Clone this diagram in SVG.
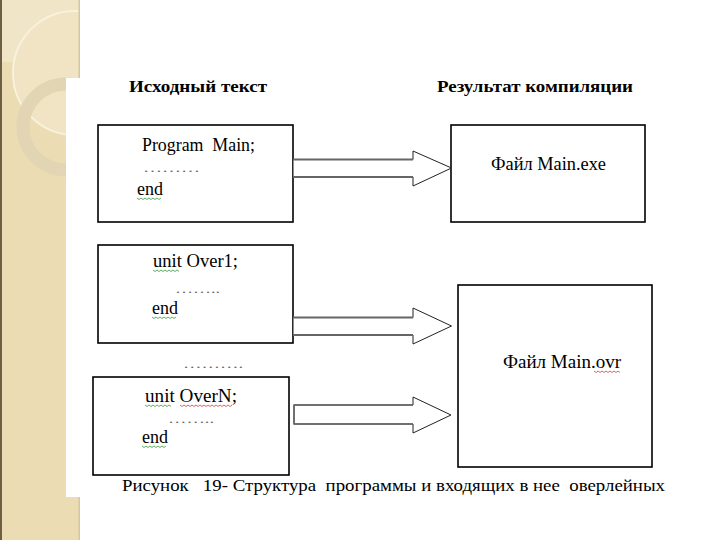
<svg xmlns="http://www.w3.org/2000/svg" width="720" height="540" viewBox="0 0 720 540">
<defs>
<style>
.t{font-size:18px;fill:#000}
.b{font-weight:bold;font-size:17px}
.d{font-size:13px;fill:#666}
.box{fill:#fff;stroke:#000;stroke-width:1.6}
.arr{fill:#fff;stroke:#222;stroke-width:1}
.sh{stroke:#666;stroke-width:2.2;fill:none}
.sq{fill:none;stroke-width:0.8}
</style>
<clipPath id="strip"><rect x="0" y="0" width="80" height="540"/></clipPath>
</defs>
<rect width="720" height="540" fill="#fff"/>
<g id="decor" clip-path="url(#strip)">
<rect x="0" y="0" width="80" height="540" fill="#ecdcb3"/>
<rect x="0" y="0" width="80" height="62" fill="#f1e5c8"/>
<circle cx="75" cy="73" r="62" fill="#f0e4c5" stroke="#f8f1dd" stroke-width="2"/>
<circle cx="66" cy="127" r="43" fill="none" stroke="#e2d5b3" stroke-width="13"/>
<rect x="0" y="0" width="2" height="540" fill="#6e5e44"/>
<rect x="78.5" y="0" width="1.5" height="540" fill="#d8c69e"/>
</g>
<rect x="66" y="78" width="654" height="419" fill="#fff"/>
<g font-family="Liberation Serif, DejaVu Serif, serif">
<g id="titles">
<text class="t b" x="129" y="92" textLength="138" lengthAdjust="spacingAndGlyphs">Исходный текст</text>
<text class="t b" x="437" y="92" textLength="196" lengthAdjust="spacingAndGlyphs">Результат компиляции</text>
</g>
<g id="src-main">
<rect class="box" x="98" y="125" width="195" height="97"/>
<text class="t" x="142" y="151" xml:space="preserve" textLength="113" lengthAdjust="spacingAndGlyphs">Program  Main;</text>
<text class="d" x="143" y="172" textLength="57" lengthAdjust="spacingAndGlyphs">………</text>
<text class="t" x="137" y="195">end</text>
<path class="sq" stroke="#3a9a3a" d="M137 198 l2 1.5 l2 -1.5 l2 1.5 l2 -1.5 l2 1.5 l2 -1.5 l2 1.5 l2 -1.5 l2 1.5 l2 -1.5 l2 1.5 l2 -1.5"/>
</g>
<g id="src-over1">
<rect class="box" x="98" y="245" width="195" height="98"/>
<text class="t" x="153" y="267" textLength="85" lengthAdjust="spacingAndGlyphs">unit Over1;</text>
<path class="sq" stroke="#3a9a3a" d="M153 270 l2 1.5 l2 -1.5 l2 1.5 l2 -1.5 l2 1.5 l2 -1.5 l2 1.5 l2 -1.5 l2 1.5 l2 -1.5 l2 1.5 l2 -1.5 l2 1.5"/>
<text class="d" x="175" y="293" textLength="45" lengthAdjust="spacingAndGlyphs">……..</text>
<text class="t" x="152" y="314">end</text>
<path class="sq" stroke="#3a9a3a" d="M152 317 l2 1.5 l2 -1.5 l2 1.5 l2 -1.5 l2 1.5 l2 -1.5 l2 1.5 l2 -1.5 l2 1.5 l2 -1.5 l2 1.5 l2 -1.5"/>
</g>
<g id="ellipsis">
<text class="d" x="183" y="368" textLength="60" lengthAdjust="spacingAndGlyphs">……….</text>
</g>
<g id="src-overN">
<rect class="box" x="93" y="377" width="196" height="98"/>
<text class="t" x="145" y="402" textLength="92" lengthAdjust="spacingAndGlyphs">unit OverN;</text>
<path class="sq" stroke="#3a9a3a" d="M145 405 l2 1.5 l2 -1.5 l2 1.5 l2 -1.5 l2 1.5 l2 -1.5 l2 1.5 l2 -1.5 l2 1.5 l2 -1.5 l2 1.5 l2 -1.5 l2 1.5"/>
<path class="sq" stroke="#d04040" d="M180 405 l2 1.5 l2 -1.5 l2 1.5 l2 -1.5 l2 1.5 l2 -1.5 l2 1.5 l2 -1.5 l2 1.5 l2 -1.5 l2 1.5 l2 -1.5 l2 1.5 l2 -1.5 l2 1.5 l2 -1.5 l2 1.5 l2 -1.5 l2 1.5 l2 -1.5 l2 1.5 l2 -1.5 l2 1.5 l2 -1.5 l2 1.5 l2 -1.5"/>
<text class="d" x="168" y="423" textLength="46" lengthAdjust="spacingAndGlyphs">……..</text>
<text class="t" x="142" y="443">end</text>
<path class="sq" stroke="#3a9a3a" d="M142 446 l2 1.5 l2 -1.5 l2 1.5 l2 -1.5 l2 1.5 l2 -1.5 l2 1.5 l2 -1.5 l2 1.5 l2 -1.5 l2 1.5 l2 -1.5"/>
</g>
<g id="res-exe">
<rect class="box" x="451" y="125" width="194" height="97"/>
<text class="t" x="491" y="170" textLength="115" lengthAdjust="spacingAndGlyphs">Файл Main.exe</text>
</g>
<g id="res-ovr">
<rect class="box" x="458" y="285" width="194" height="182"/>
<text class="t" x="503" y="368" textLength="118" lengthAdjust="spacingAndGlyphs">Файл Main.ovr</text>
<path class="sq" stroke="#d04040" d="M594 371 l2 1.5 l2 -1.5 l2 1.5 l2 -1.5 l2 1.5 l2 -1.5 l2 1.5 l2 -1.5 l2 1.5 l2 -1.5 l2 1.5 l2 -1.5 l2 1.5"/>
</g>
<g id="connectors">
<polygon class="arr" points="293,159.5 413,159.5 413,151 451.5,168 413,186 413,177 293,177"/>
<path class="sh" d="M293 159.5 H413 M293 177 H413"/>
<polygon class="arr" points="293,317.5 413,317.5 413,308 451.5,326 413,344 413,335 293,335"/>
<path class="sh" d="M293 317.5 H413 M293 335 H413"/>
<polygon class="arr" points="294,405 413,405 413,397 451,415 413,433 413,424 294,424"/>
<path class="sh" style="stroke-width:1.5" d="M413 405 H294 V424 H413"/>
</g>
<g id="caption">
<text class="t" style="font-size:17px" x="122" y="491" xml:space="preserve" textLength="543" lengthAdjust="spacingAndGlyphs">Рисунок   19- Структура  программы и входящих в нее  оверлейных</text>
</g>
</g>
</svg>
